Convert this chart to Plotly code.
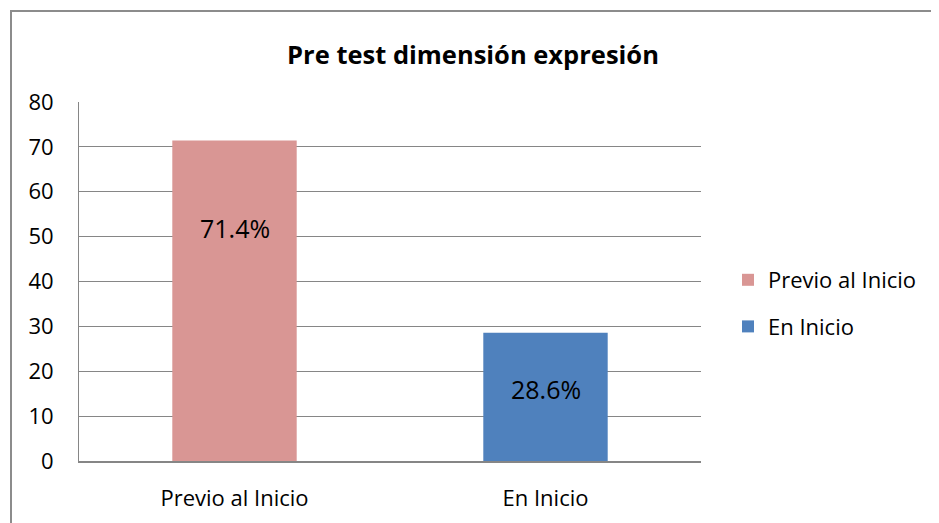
import plotly.graph_objects as go

categories = ["Previo al Inicio", "En Inicio"]
values = [71.4, 28.6]
labels = ["71.4%", "28.6%"]
label_y = [52, 16]
colors = ["#D99694", "#4F81BD"]
y_ticks = [0, 10, 20, 30, 40, 50, 60, 70, 80]

FONT = "Open Sans, Calibri, sans-serif"

fig = go.Figure()
for i, (c, v) in enumerate(zip(categories, values)):
    fig.add_trace(go.Bar(
        x=[c], y=[v], name=c, marker=dict(color=colors[i], line=dict(width=0)),
        width=0.4, legendgroup=c, hoverinfo="x+y",
    ))

for c, t, ly in zip(categories, labels, label_y):
    fig.add_annotation(x=c, y=ly, text=t, showarrow=False,
                       font=dict(family=FONT, size=25, color="#000000"))

OFF = 8  # page body offset
W, H = 939, 523
L, R, T, B = 79 - OFF, 701 - OFF, 102 - OFF, 461 - OFF
pw, ph = R - L, B - T

def px(x):
    return (x - OFF - L) / pw

def py(y):
    return (B - (y - OFF)) / ph

fig.add_shape(type="rect", xref="paper", yref="paper",
              x0=px(11), x1=px(960), y0=py(545), y1=py(11),
              line=dict(color="#8C8C8C", width=2), fillcolor="rgba(0,0,0,0)", layer="below")

fig.update_layout(
    width=W, height=H,
    margin=dict(l=L, r=W - R, t=T, b=H - B, pad=0),
    paper_bgcolor="white", plot_bgcolor="white",
    barmode="overlay",
    title=dict(text="<b>Pre test dimensión expresión</b>", x=(473 - OFF) / W, xanchor="center",
               y=1 - (55 - OFF) / H, yanchor="middle",
               font=dict(family=FONT, size=25.5, color="#000000")),
    font=dict(family=FONT, size=22, color="#000000"),
    showlegend=True,
    legend=dict(x=px(728), xanchor="left", y=py(259), yanchor="top",
                font=dict(family=FONT, size=22, color="#000000"),
                traceorder="grouped", tracegroupgap=15,
                bgcolor="rgba(0,0,0,0)", itemwidth=30),
    xaxis=dict(showgrid=False, showline=True, linecolor="#868686", linewidth=2,
               ticks="", ticklabelstandoff=17, tickfont=dict(size=22)),
    yaxis=dict(range=[0, 80], tickvals=y_ticks, showgrid=True, gridcolor="#868686",
               gridwidth=1, showline=True, linecolor="#868686", linewidth=1,
               ticks="", ticklabelstandoff=20, zeroline=False,
               tickfont=dict(size=22)),
)

fig.write_html("out.html")
